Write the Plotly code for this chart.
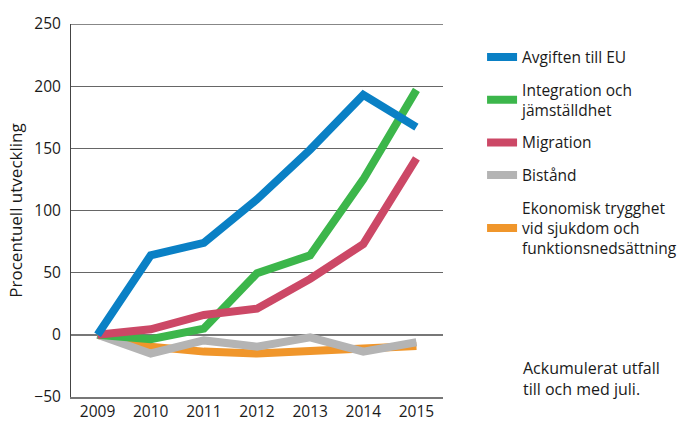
import plotly.graph_objects as go

years = ["2009", "2010", "2011", "2012", "2013", "2014", "2015"]
avgiften = [0, 64, 74, 109, 149, 193, 167]
integration = [0, -3.5, 5, 49.5, 64, 125, 197]
migration = [0, 4.5, 16, 21, 45, 73, 142]
bistand = [0, -15, -4.5, -9.5, -2, -13.5, -6]
ekonomisk = [0, -9.5, -13.5, -15, -13, -11, -9]

names = ["Avgiften till EU", "Integration och<br>jämställdhet", "Migration", "Bistånd",
         "Ekonomisk trygghet<br>vid sjukdom och<br>funktionsnedsättning"]
colors = ["#0a80c5", "#3cb64b", "#cc4866", "#b4b4b4", "#f0962b"]
series = [avgiften, integration, migration, bistand, ekonomisk]

fig = go.Figure()
draw_order = [4, 3, 1, 2, 0]
for i in draw_order:
    fig.add_trace(go.Scatter(
        x=years, y=series[i], mode="lines", name=names[i],
        line=dict(color=colors[i], width=8),
        legendrank=i + 1, legendgroup=str(i),
    ))

shapes = []
for yr in years:
    shapes.append(dict(type="line", xref="x", yref="y", x0=yr, x1=yr, y0=0, y1=7,
                       line=dict(color="#111", width=1), layer="below"))
shapes.append(dict(type="line", xref="paper", yref="y", x0=0, x1=1, y0=250, y1=250,
                   line=dict(color="#111", width=1), layer="below"))

font = "Open Sans, Lato, sans-serif"
fig.update_layout(
    width=700, height=429,
    margin=dict(l=71, r=257, t=24, b=32),
    paper_bgcolor="white", plot_bgcolor="white",
    font=dict(family=font, size=15, color="#1a1a1a"),
    showlegend=True,
    legend=dict(x=1.105, xanchor="left", xref="paper", y=0.956, yanchor="top",
                traceorder="grouped", tracegroupgap=9.5,
                font=dict(size=15.5), bgcolor="rgba(0,0,0,0)",
                itemwidth=30),
    xaxis=dict(type="category", range=[-0.5, 6.5], showgrid=False, automargin=False,
               showline=True, linecolor="#777", linewidth=1.5,
               ticks="", tickfont=dict(size=15.5), fixedrange=True),
    yaxis=dict(range=[-50, 250], tickvals=[-50, 0, 50, 100, 150, 200, 250], automargin=False,
               showgrid=True, gridcolor="#666", gridwidth=1,
               zeroline=True, zerolinecolor="#777", zerolinewidth=1.5,
               showline=True, linecolor="#444", linewidth=1,
               ticks="", ticklabelstandoff=6, tickfont=dict(size=15.5),
               title=dict(text="Procentuell utveckling", font=dict(size=17), standoff=7)),
    shapes=shapes,
    annotations=[dict(text="Ackumulerat utfall<br>till och med juli.", xref="paper", yref="paper",
                      x=1.21, y=0.05, xanchor="left", yanchor="middle", align="left",
                      showarrow=False, font=dict(size=16))],
)
fig.write_html("out.html", config={"displayModeBar": False},
               post_script="document.body.style.margin='0';")
